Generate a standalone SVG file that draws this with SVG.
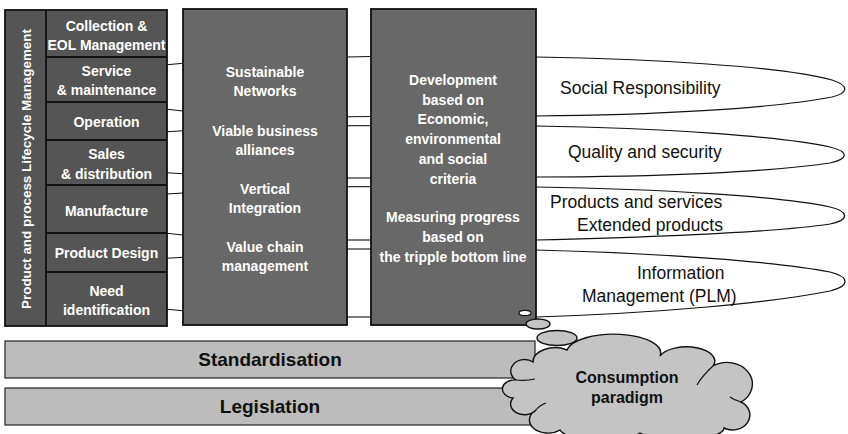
<svg xmlns="http://www.w3.org/2000/svg" width="848" height="434" viewBox="0 0 848 434">
  <style>
    .col { stroke: #111; stroke-width: 1.8; }
    .dark { fill: #555555; }
    .mid { fill: #686868; }
    .bar { fill: #bcbcbc; stroke: #222; stroke-width: 1.2; }
    .div { stroke: #111; stroke-width: 1.8; fill: none; }
    .wt { font-family: "Liberation Sans", Arial, sans-serif; font-weight: bold; font-size: 14px; fill: #fff; text-anchor: middle; }
    .bt { font-family: "Liberation Sans", Arial, sans-serif; font-size: 17.5px; fill: #111; }
    .bb { font-family: "Liberation Sans", Arial, sans-serif; font-weight: bold; fill: #111; text-anchor: middle; }
    .conn { stroke: #111; stroke-width: 1.1; fill: none; }
    .loop { stroke: #111; stroke-width: 1.2; fill: #fff; }
    .puff { stroke: #111; stroke-width: 1.4; fill: #c4c4c4; }
  </style>

  <!-- connecting lines between the columns -->
  <g id="connectors">
    <path class="conn" d="M167,64.7 L183,63.3"/>
    <path class="conn" d="M167,109.3 L183,111"/>
    <path class="conn" d="M167,131.7 L183,130.7"/>
    <path class="conn" d="M167,172.7 L183,173.7"/>
    <path class="conn" d="M167,194 L183,193"/>
    <path class="conn" d="M167,233.3 L183,235"/>
    <path class="conn" d="M167,258.3 L183,257.3"/>
    <path class="conn" d="M167,309.3 L183,310.7"/>

    <path class="conn" d="M347,57 L371,56.5"/>
    <path class="conn" d="M347,116.7 L371,116.5"/>
    <path class="conn" d="M347,125.7 L371,125.7"/>
    <path class="conn" d="M347,178 L371,178"/>
    <path class="conn" d="M347,186.7 L371,186.7"/>
    <path class="conn" d="M347,240 L371,240"/>
    <path class="conn" d="M347,249 L371,249"/>
    <path class="conn" d="M347,317 L371,317"/>
  </g>

  <!-- outcome loops on the right -->
  <g id="social">
    <path class="loop" d="M536,57 C650,59 780,66 832,80 C850,86 848,93 832,97 C770,109 650,115 536,116"/>
    <text class="bt" x="560" y="94">Social Responsibility</text>
  </g>
  <g id="quality">
    <path class="loop" d="M536,126 C660,128 780,136 830,147 C850,152 848,159 830,163 C770,172 660,177 536,177"/>
    <text class="bt" x="568" y="158">Quality and security</text>
  </g>
  <g id="products">
    <path class="loop" d="M536,187 C660,189 780,196 830,207 C850,212 849,220 830,224 C770,233 660,237 536,240"/>
    <text class="bt" x="550" y="208">Products and services</text>
    <text class="bt" x="577" y="231">Extended products</text>
  </g>
  <g id="information">
    <path class="loop" d="M536,250 C660,253 780,262 830,272 C850,277 850,286 830,291 C770,303 660,313 536,317"/>
    <text class="bt" x="637" y="279">Information</text>
    <text class="bt" x="582" y="302">Management (PLM)</text>
  </g>

  <!-- lifecycle column -->
  <g id="lifecycle">
    <rect class="col dark" x="5" y="10" width="162" height="316"/>
    <path class="div" d="M46,10 V326 M46,57 H167 M46,102 H167 M46,140 H167 M46,185 H167 M46,233 H167 M46,272 H167"/>
    <text class="wt" transform="translate(31,169) rotate(-90)" style="font-size:13.4px">Product and process Lifecycle Management</text>
    <text class="wt" x="106.5" y="31">Collection &amp;</text>
    <text class="wt" x="106.5" y="50">EOL Management</text>
    <text class="wt" x="106.5" y="76">Service</text>
    <text class="wt" x="106.5" y="95">&amp; maintenance</text>
    <text class="wt" x="106.5" y="127">Operation</text>
    <text class="wt" x="106.5" y="159">Sales</text>
    <text class="wt" x="106.5" y="179">&amp; distribution</text>
    <text class="wt" x="106.5" y="216">Manufacture</text>
    <text class="wt" x="106.5" y="258">Product Design</text>
    <text class="wt" x="106.5" y="296">Need</text>
    <text class="wt" x="106.5" y="315">identification</text>
  </g>

  <!-- network column -->
  <g id="networks">
    <rect class="col mid" x="183" y="9" width="164" height="316"/>
    <text class="wt" x="265" y="77">Sustainable</text>
    <text class="wt" x="265" y="96">Networks</text>
    <text class="wt" x="265" y="136">Viable business</text>
    <text class="wt" x="265" y="155">alliances</text>
    <text class="wt" x="265" y="194">Vertical</text>
    <text class="wt" x="265" y="213">Integration</text>
    <text class="wt" x="265" y="252">Value chain</text>
    <text class="wt" x="265" y="271">management</text>
  </g>

  <!-- sustainability column -->
  <g id="development">
    <rect class="col mid" x="371" y="9" width="165" height="316"/>
    <text class="wt" x="453" y="85">Development</text>
    <text class="wt" x="453" y="105">based on</text>
    <text class="wt" x="453" y="124">Economic,</text>
    <text class="wt" x="453" y="144">environmental</text>
    <text class="wt" x="453" y="164">and social</text>
    <text class="wt" x="453" y="184">criteria</text>
    <text class="wt" x="453" y="222">Measuring progress</text>
    <text class="wt" x="453" y="242">based on</text>
    <text class="wt" x="453" y="262">the tripple bottom line</text>
  </g>

  <!-- base layers -->
  <g id="standardisation">
    <rect class="bar" x="5" y="341" width="530" height="37"/>
    <text class="bb" x="270" y="366" style="font-size:19px">Standardisation</text>
  </g>
  <g id="legislation">
    <rect class="bar" x="5" y="388" width="530" height="37"/>
    <text class="bb" x="270" y="413" style="font-size:19px">Legislation</text>
  </g>

  <!-- thought cloud -->
  <g id="consumption">
    <ellipse cx="525" cy="313" rx="6" ry="2.6" fill="#fff" stroke="#111" stroke-width="1.2"/>
    <ellipse class="puff" cx="538" cy="324" rx="12" ry="5"/>
    <ellipse class="puff" cx="557" cy="338" rx="20" ry="7.5"/>
    <path class="puff" d="M533,362 A22,14 0 0 1 567,350 A40,16 0 0 1 660,356 A28,14 0 0 1 713,366 A20,17 0 0 1 741,402 A14,12 0 0 1 724,428 A44,12 0 0 1 640,433 A42,12 0 0 1 560,430 A17,12 0 0 1 536,410 A13,10 0 0 1 513,398 A12,9 0 0 1 516,380 A12,10 0 0 1 533,362 Z"/>
    <path class="div" d="M516,380 Q526,381 535,379 M713,366 Q702,376 697,385 M741,402 Q734,400 730,397 M536,410 Q540,405 546,403" style="stroke-width:1.2"/>
    <text class="bb" x="627" y="383" style="font-size:16px">Consumption</text>
    <text class="bb" x="627" y="403" style="font-size:16px">paradigm</text>
  </g>
</svg>
